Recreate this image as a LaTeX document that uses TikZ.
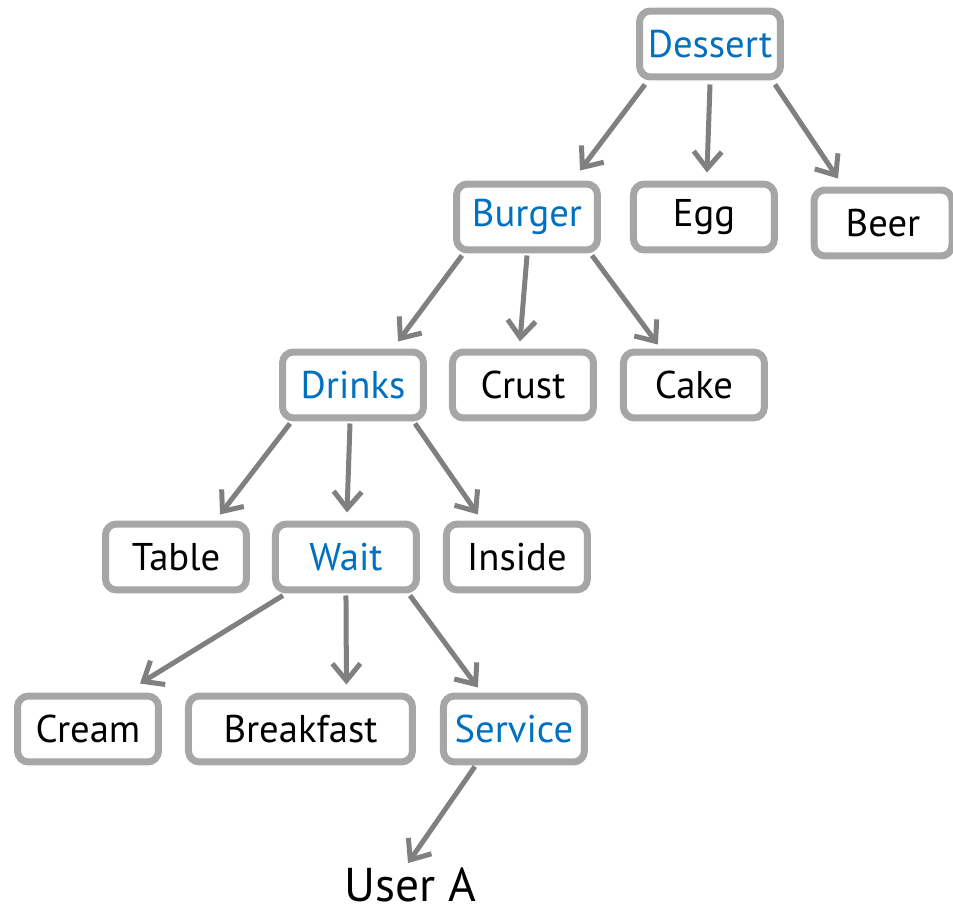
\documentclass[tikz,border=0pt]{standalone}
\usepackage{fontspec}
\setmainfont{PT Sans}
\usepackage{tikz}
\usetikzlibrary{arrows.meta,positioning}
\usepackage{xcolor}
\definecolor{boxgray}{RGB}{166,166,166}
\definecolor{arrowgray}{RGB}{128,128,128}
\definecolor{termblue}{RGB}{0,112,192}

\begin{document}
\begin{tikzpicture}[x=0.02cm,y=-0.02cm,
  every node/.style={font=\fontsize{22}{25}\selectfont},
  term/.style={draw=boxgray,fill=white,line width=0.14cm,rounded corners=0.22cm,
    minimum width=2.82cm,minimum height=1.32cm,inner sep=0pt},
  hot/.style={text=termblue},
  link/.style={draw=arrowgray,line width=0.1cm,-{Straight Barb[length=0.34cm,width=0.56cm]}}]
\useasboundingbox (0,0) rectangle (953,915);
% top of the tree
\node[term,hot] (dessert) at (710,44) {Dessert};
\node[term,hot] (burger) at (527,217) {Burger};
\node[term,right=0.58cm of burger] (egg) {Egg};
\node[term,minimum width=2.76cm] (beer) at (883,223) {Beer};
% second level
\node[term,hot] (drinks) at (353,385) {Drinks};
\node[term,right=0.44cm of drinks] (crust) {Crust};
\node[term,right=0.46cm of crust] (cake) {Cake};
% third level
\node[term] (table) at (176,557) {Table};
\node[term,hot,right=0.44cm of table] (wait) {Wait};
\node[term,right=0.46cm of wait] (inside) {Inside};
% bottom row
\node[term] (cream) at (88,729) {Cream};
\node[term,minimum width=4.48cm,right=0.46cm of cream] (breakfast) {Breakfast};
\node[term,hot,right=0.48cm of breakfast] (service) {Service};
\node[font=\fontsize{27}{30}\selectfont,anchor=base] (user) at (410,901) {User A};
% arrows
\draw[link] ([shift={(-65,4)}]dessert.south) -- ([shift={(53,-10)}]burger.north);
\draw[link] ([shift={(0,4)}]dessert.south) -- ([shift={(3,-8)}]egg.north);
\draw[link] ([shift={(65,4)}]dessert.south) -- ([shift={(-45,-8)}]beer.north);
\draw[link] ([shift={(-65,2)}]burger.south) -- ([shift={(45,-7)}]drinks.north);
\draw[link] ([shift={(0,2)}]burger.south) -- ([shift={(-3,-7)}]crust.north);
\draw[link] ([shift={(65,2)}]burger.south) -- ([shift={(-36,-4)}]cake.north);
\draw[link] ([shift={(-63,2)}]drinks.south) -- ([shift={(44,-6)}]table.north);
\draw[link] ([shift={(-3,2)}]drinks.south) -- ([shift={(1,-8)}]wait.north);
\draw[link] ([shift={(62,2)}]drinks.south) -- ([shift={(-39,-6)}]inside.north);
\draw[link] ([shift={(-63,2)}]wait.south) -- ([shift={(52,-9)}]cream.north);
\draw[link] ([shift={(0,2)}]wait.south) -- ([shift={(46,-8)}]breakfast.north);
\draw[link] ([shift={(64,2)}]wait.south) -- ([shift={(-36,-5)}]service.north);
\draw[link] ([shift={(-39,1)}]service.south) -- ([shift={(-2,2)}]user.north);
\end{tikzpicture}
\end{document}
